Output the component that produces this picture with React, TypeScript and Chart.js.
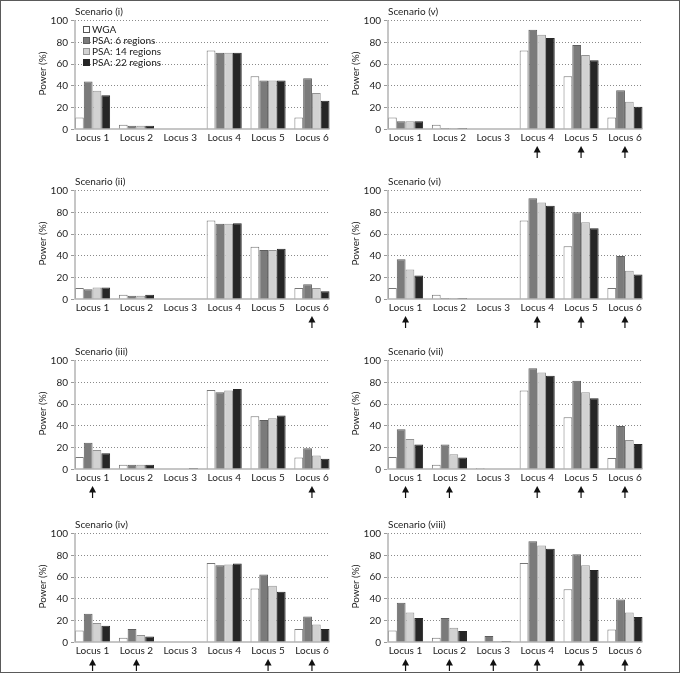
import React, { useEffect, useRef } from "react";
import { Chart, registerables } from "chart.js";
Chart.register(...registerables);

const loci = ["Locus 1", "Locus 2", "Locus 3", "Locus 4", "Locus 5", "Locus 6"];
const seriesNames = ["WGA", "PSA: 6 regions", "PSA: 14 regions", "PSA: 22 regions"];
const yTicks = [0, 20, 40, 60, 80, 100];

// Scenario (i)
const wgaI = [10.5, 4, 0, 72, 48.5, 10.5];
const psa6I = [43.5, 3, 0, 70, 44.5, 46.5];
const psa14I = [35, 3, 0, 70, 44.5, 33];
const psa22I = [31, 3, 0, 70, 44.5, 26];
const arrowsI: number[] = [];

// Scenario (ii)
const wgaII = [10, 4, 0, 72, 48, 10];
const psa6II = [9, 3, 0, 69, 45, 13.5];
const psa14II = [10.5, 3, 0, 69, 45, 10];
const psa22II = [10.5, 4, 0, 69.5, 46, 7];
const arrowsII = [6];

// Scenario (iii)
const wgaIII = [11, 4, 0, 72.5, 48.5, 10.5];
const psa6III = [24, 4, 0, 70.5, 45, 19];
const psa14III = [17.5, 4, 0, 72, 46.5, 12.5];
const psa22III = [14.5, 4, 1, 73.5, 49, 9.5];
const arrowsIII = [1, 6];

// Scenario (iv)
const wgaIV = [10.5, 4, 0, 72.5, 49, 12];
const psa6IV = [26, 12, 0, 70.5, 62, 23.5];
const psa14IV = [17.5, 6.5, 0, 71, 51.5, 16];
const psa22IV = [15, 5, 0, 72, 46, 12];
const arrowsIV = [1, 2, 5, 6];

// Scenario (v)
const wgaV = [10.5, 4, 0, 72, 48.5, 10.5];
const psa6V = [7, 1, 0, 91, 77, 35.5];
const psa14V = [7, 1, 0, 86.5, 68, 25];
const psa22V = [7, 1, 0, 83.5, 63, 20.5];
const arrowsV = [4, 5, 6];

// Scenario (vi)
const wgaVI = [10, 4, 0, 72, 48.5, 10];
const psa6VI = [36.5, 1, 0, 92.5, 79.5, 39.5];
const psa14VI = [27, 1, 0, 88.5, 70.5, 26];
const psa22VI = [21.5, 1, 0, 85.5, 65, 22.5];
const arrowsVI = [1, 4, 5, 6];

// Scenario (vii)
const wgaVII = [11, 4, 1, 72, 47.5, 10];
const psa6VII = [36.5, 22.5, 0, 92.5, 81, 39.5];
const psa14VII = [27.5, 13.5, 0, 88.5, 70.5, 26.5];
const psa22VII = [22.5, 10.5, 0, 85.5, 65, 23];
const arrowsVII = [1, 2, 4, 5, 6];

// Scenario (viii)
const wgaVIII = [10.5, 4, 0, 72.5, 48.5, 11.5];
const psa6VIII = [36, 22, 5.5, 92.5, 80.5, 39];
const psa14VIII = [27, 13, 1, 88.5, 70.5, 27];
const psa22VIII = [22, 10, 1, 85.5, 66, 23];
const arrowsVIII = [1, 2, 3, 4, 5, 6];

const fills = ["#ffffff", "#7b7b7b", "#d2d2d2", "#262626"];
const borders = ["#777777", "#5e5e5e", "#949494", "#262626"];
const FONT = "Lato, 'Liberation Sans', sans-serif";
const TEXT = "#222";

type PanelDef = {
  title: string;
  series: number[][];
  arrows: number[];
  legend: boolean;
  col: number;
  row: number;
};

const panels: PanelDef[] = [
  { title: "Scenario (i)", series: [wgaI, psa6I, psa14I, psa22I], arrows: arrowsI, legend: true, col: 0, row: 0 },
  { title: "Scenario (ii)", series: [wgaII, psa6II, psa14II, psa22II], arrows: arrowsII, legend: false, col: 0, row: 1 },
  { title: "Scenario (iii)", series: [wgaIII, psa6III, psa14III, psa22III], arrows: arrowsIII, legend: false, col: 0, row: 2 },
  { title: "Scenario (iv)", series: [wgaIV, psa6IV, psa14IV, psa22IV], arrows: arrowsIV, legend: false, col: 0, row: 3 },
  { title: "Scenario (v)", series: [wgaV, psa6V, psa14V, psa22V], arrows: arrowsV, legend: false, col: 1, row: 0 },
  { title: "Scenario (vi)", series: [wgaVI, psa6VI, psa14VI, psa22VI], arrows: arrowsVI, legend: false, col: 1, row: 1 },
  { title: "Scenario (vii)", series: [wgaVII, psa6VII, psa14VII, psa22VII], arrows: arrowsVII, legend: false, col: 1, row: 2 },
  { title: "Scenario (viii)", series: [wgaVIII, psa6VIII, psa14VIII, psa22VIII], arrows: arrowsVIII, legend: false, col: 1, row: 3 },
];

const rowTops = [0, 170, 340, 513];
const rowHeights = [170, 170, 170, 159];
const colLefts = [0, 340];
const CANVAS_W = 340;
const axisXs = [75, 48];
const PLOT_D = 254.5;
const CAT_P = 0.8;
const PLOT_TOP = 20;
const PLOT_BOTTOM = 129;

function Panel({ def }: { def: PanelDef }) {
  const ref = useRef<HTMLCanvasElement | null>(null);
  useEffect(() => {
    const canvas = ref.current;
    if (!canvas) return;
    const H = rowHeights[def.row];
    const axisX = axisXs[def.col];
    const rightX = axisX + PLOT_D;
    const c = PLOT_D / (5 + CAT_P);
    const L = axisX - (c * (1 - CAT_P)) / 2;
    const R = CANVAS_W - (L + 6 * c);

    const decor = {
      id: "decor",
      beforeDatasetsDraw(chart: any) {
        const ctx = chart.ctx;
        const y = chart.scales.y;
        ctx.save();
        ctx.strokeStyle = "#8a8a8a";
        ctx.lineWidth = 1;
        ctx.setLineDash([1, 2]);
        yTicks.forEach((t) => {
          if (t === 0) return;
          const py = Math.round(y.getPixelForValue(t)) + 0.5;
          ctx.beginPath();
          ctx.moveTo(axisX, py);
          ctx.lineTo(rightX, py);
          ctx.stroke();
        });
        ctx.restore();
      },
      afterDatasetsDraw(chart: any) {
        const ctx = chart.ctx;
        const y = chart.scales.y;
        const x = chart.scales.x;
        const y0 = y.getPixelForValue(0);
        const y100 = y.getPixelForValue(100);
        ctx.save();
        // axes
        ctx.strokeStyle = "#b4b4b4";
        ctx.lineWidth = 1.5;
        ctx.beginPath();
        ctx.moveTo(axisX, y100);
        ctx.lineTo(axisX, y0 + 0.5);
        ctx.moveTo(axisX - 0.75, y0);
        ctx.lineTo(rightX, y0);
        ctx.stroke();
        // tick marks + labels
        ctx.strokeStyle = "#9a9a9a";
        ctx.lineWidth = 1;
        ctx.fillStyle = TEXT;
        ctx.font = `10px ${FONT}`;
        ctx.textAlign = "right";
        ctx.textBaseline = "middle";
        yTicks.forEach((t) => {
          const py = y.getPixelForValue(t);
          ctx.beginPath();
          ctx.moveTo(axisX - 4, Math.round(py) + 0.5);
          ctx.lineTo(axisX - 1, Math.round(py) + 0.5);
          ctx.stroke();
          ctx.fillText(String(t), axisX - 7, py + 0.5);
        });
        // x labels
        ctx.textAlign = "center";
        loci.forEach((lab, i) => {
          ctx.fillText(lab, x.getPixelForValue(i), y0 + 8.5);
        });
        // y title
        ctx.save();
        ctx.translate(axisX - 32, (y0 + y100) / 2 - 1);
        ctx.rotate(-Math.PI / 2);
        ctx.textAlign = "center";
        ctx.fillText("Power (%)", 0, 0);
        ctx.restore();
        // title
        ctx.textAlign = "left";
        ctx.fillText(def.title, axisX, y100 - 8.5);
        // arrows
        ctx.fillStyle = "#111";
        ctx.strokeStyle = "#111";
        ctx.lineWidth = 1.2;
        def.arrows.forEach((n) => {
          const ax = x.getPixelForValue(n - 1);
          ctx.beginPath();
          ctx.moveTo(ax, y0 + 22);
          ctx.lineTo(ax, y0 + 29);
          ctx.stroke();
          ctx.beginPath();
          ctx.moveTo(ax, y0 + 17);
          ctx.lineTo(ax - 3.5, y0 + 23.5);
          ctx.lineTo(ax + 3.5, y0 + 23.5);
          ctx.closePath();
          ctx.fill();
        });
        // legend
        if (def.legend) {
          ctx.font = `10px ${FONT}`;
          ctx.textAlign = "left";
          ctx.textBaseline = "middle";
          seriesNames.forEach((name, i) => {
            const cy = 29 + i * 11;
            ctx.fillStyle = fills[i];
            ctx.fillRect(83, cy - 3, 6, 6);
            ctx.strokeStyle = i === 0 ? "#555" : borders[i];
            ctx.lineWidth = 1;
            ctx.strokeRect(83.5, cy - 2.5, 6, 6);
            ctx.fillStyle = TEXT;
            ctx.fillText(name, 92, cy + 0.5);
          });
        }
        ctx.restore();
      },
    };

    const chart = new Chart(canvas, {
      type: "bar",
      data: {
        labels: loci,
        datasets: def.series.map((d, i) => ({
          label: seriesNames[i],
          data: d,
          backgroundColor: fills[i],
          borderColor: borders[i],
          borderWidth: 1,
          borderSkipped: "start",
          categoryPercentage: CAT_P,
          barPercentage: 1,
        })),
      },
      options: {
        responsive: false,
        maintainAspectRatio: false,
        animation: false,
        events: [],
        devicePixelRatio: 1,
        layout: { padding: { left: L, right: R, top: PLOT_TOP, bottom: H - PLOT_BOTTOM } },
        scales: {
          x: { display: false, offset: true },
          y: { display: false, min: 0, max: 100 },
        },
        plugins: {
          legend: { display: false },
          tooltip: { enabled: false },
          title: { display: false },
        },
      },
      plugins: [decor],
    } as any);
    return () => chart.destroy();
  }, [def]);

  const H = rowHeights[def.row];
  return (
    <canvas
      ref={ref}
      width={CANVAS_W}
      height={H}
      style={{
        position: "absolute",
        left: colLefts[def.col],
        top: rowTops[def.row],
        width: CANVAS_W,
        height: H,
      }}
    />
  );
}

export default function App() {
  return (
    <div
      style={{
        position: "absolute",
        left: 0,
        top: 0,
        width: 681,
        height: 675,
        background: "#fff",
        overflow: "hidden",
      }}
    >
      {panels.map((p) => (
        <Panel key={p.title} def={p} />
      ))}
      <div
        style={{
          position: "absolute",
          left: 0,
          top: 0,
          width: 680,
          height: 673,
          boxSizing: "border-box",
          border: "1px solid #5a5a5a",
          pointerEvents: "none",
        }}
      />
    </div>
  );
}
